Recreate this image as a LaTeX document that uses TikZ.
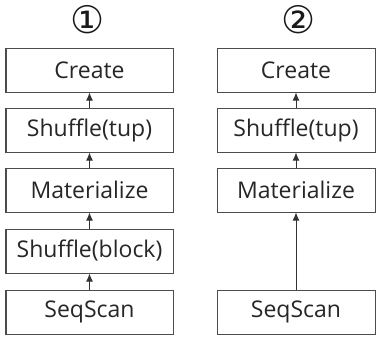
\documentclass[tikz,border=0pt]{standalone}
\usepackage{fontspec}
\setmainfont{Open Sans}
\newfontfamily\circfont{DejaVu Sans}
\usetikzlibrary{arrows.meta}

\tikzset{
  op/.style={draw=black!70, line width=1pt, minimum height=44pt,
    inner sep=0pt, font=\fontsize{23}{26}\selectfont, text=black!85},
  flow/.style={-{Latex[length=8pt,width=7pt]}, line width=1pt, black!80},
  tag/.style={font=\circfont\fontsize{38}{40}\selectfont, text=black!90}
}

\begin{document}
\begin{tikzpicture}[x=1pt,y=-1pt]
  \useasboundingbox (0,0) rectangle (376,341);

  % --- Plan 1: two shuffles ---
  \begin{scope}[op/.append style={minimum width=167pt}]
    \node[tag] (t1) at (88,20) {①};
    \node[op] (c1) at (89.5,70)  {Create};
    \node[op] (s1) at (89.5,130) {Shuffle(tup)};
    \node[op] (m1) at (89.5,190) {Materialize};
    \node[op] (b1) at (89.5,251) {Shuffle(block)};
    \node[op] (q1) at (89.5,312) {SeqScan};

    \draw[flow] (s1) -- (c1);
    \draw[flow] (m1) -- (s1);
    \draw[flow] (b1) -- (m1);
    \draw[flow] (q1) -- (b1);
  \end{scope}

  % --- Plan 2: block shuffle dropped ---
  \begin{scope}[op/.append style={minimum width=158pt}]
    \node[tag] (t2) at (299,20) {②};
    \node[op] (c2) at (296,70)  {Create};
    \node[op] (s2) at (296,130) {Shuffle(tup)};
    \node[op] (m2) at (296,190) {Materialize};
    \node[op] (q2) at (296,312) {SeqScan};

    \draw[flow] (s2) -- (c2);
    \draw[flow] (m2) -- (s2);
    \draw[flow] (q2) -- (m2);
  \end{scope}
\end{tikzpicture}
\end{document}
